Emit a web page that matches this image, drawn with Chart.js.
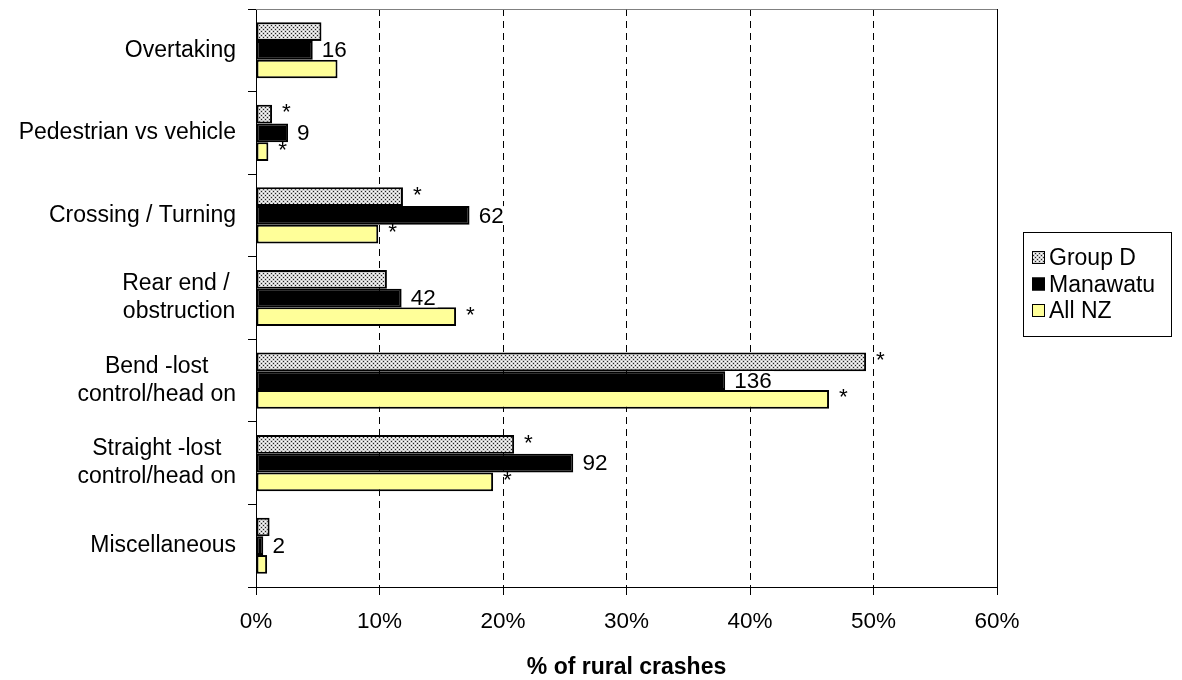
<!DOCTYPE html>
<html>
<head>
<meta charset="utf-8">
<script src="https://cdn.jsdelivr.net/npm/chart.js@4.4.1/dist/chart.umd.min.js"></script>
<style>
  html, body { margin: 0; padding: 0; background: #fff; }
  canvas { display: block; }
</style>
</head>
<body>
<canvas id="crashChart" width="1182" height="680"></canvas>
<script>
// datos
const categories = [
    ['Overtaking'],
    ['Pedestrian vs vehicle'],
    ['Crossing / Turning'],
    ['Rear end / ', 'obstruction'],
    ['Bend -lost', 'control/head on'],
    ['Straight -lost', 'control/head on'],
    ['Miscellaneous']
];
const seriesNames = ['Group D', 'Manawatu', 'All NZ'];
const groupD = [5.3, 1.3, 11.9, 10.6, 49.4, 20.9, 1.1];
const manawatu = [4.6, 2.6, 17.3, 11.8, 38.0, 25.7, 0.6];
const allNZ = [6.6, 1.0, 9.9, 16.2, 46.4, 19.2, 0.9];
const manawatuCounts = [16, 9, 62, 42, 136, 92, 2];
const sigGroupD = [false, true, true, false, true, true, false];
const sigAllNZ = [false, true, true, true, true, true, false];
const xTicks = [0, 10, 20, 30, 40, 50, 60];
const xTitle = '% of rural crashes';

const FONT = '"Liberation Sans", Arial, sans-serif';

function dotPattern(ctx) {
    const c = document.createElement('canvas');
    c.width = 4;
    c.height = 4;
    const g = c.getContext('2d');
    g.fillStyle = '#cfcfcf';
    g.fillRect(0, 0, 4, 4);
    g.fillStyle = '#ffffff';
    g.fillRect(1, 1, 1, 1);
    g.fillRect(3, 3, 1, 1);
    g.fillStyle = '#222222';
    g.fillRect(3, 1, 1, 1);
    g.fillRect(1, 3, 1, 1);
    return ctx.createPattern(c, 'repeat');
}

const ctx = document.getElementById('crashChart').getContext('2d');
const pattern = dotPattern(ctx);
const fills = [pattern, '#000000', '#ffff99'];

// etiquetas, asteriscos, leyenda y marco
const extrasPlugin = {
    id: 'extras',
    afterDatasetsDraw(chart) {
        const c = chart.ctx;
        const area = chart.chartArea;
        const yScale = chart.scales.y;
        const xScale = chart.scales.x;

        c.save();
        // marco superior y derecho
        c.lineWidth = 1;
        c.strokeStyle = '#808080';
        c.beginPath();
        c.moveTo(area.left, area.top + 0.5);
        c.lineTo(area.right, area.top + 0.5);
        c.stroke();
        c.strokeStyle = '#000';
        c.beginPath();
        c.moveTo(area.right + 0.5, area.top);
        c.lineTo(area.right + 0.5, area.bottom);
        c.stroke();

        // numeros de Manawatu
        c.font = '22.5px ' + FONT;
        c.textBaseline = 'middle';
        c.textAlign = 'left';
        const manMeta = chart.getDatasetMeta(1);
        manMeta.data.forEach((bar, i) => {
            const txt = String(manawatuCounts[i]);
            const w = c.measureText(txt).width;
            const x0 = bar.x + 9;
            c.fillStyle = '#fff';
            c.fillRect(bar.x, bar.y - bar.height / 2, x0 + w + 2 - bar.x, bar.height);
            c.fillStyle = '#000';
            c.fillText(txt, x0, bar.y + 1);
        });

        // asteriscos de significancia
        const stars = [[0, sigGroupD], [2, sigAllNZ]];
        stars.forEach(([ds, flags]) => {
            chart.getDatasetMeta(ds).data.forEach((bar, i) => {
                if (!flags[i]) return;
                c.fillStyle = '#000';
                c.fillText('*', bar.x + 10, bar.y - 1);
            });
        });

        // etiquetas de categorias
        c.font = '23px ' + FONT;
        c.textAlign = 'center';
        categories.forEach((lines, i) => {
            const y = yScale.getPixelForValue(i);
            const maxW = Math.max(...lines.map(l => c.measureText(l).width));
            const cx = area.left - 20 - maxW / 2;
            lines.forEach((line, k) => {
                c.fillText(line, cx, y + (k - (lines.length - 1) / 2) * 28);
            });
        });

        // titulo del eje x
        c.font = 'bold 23px ' + FONT;
        c.fillText(xTitle, (xScale.left + xScale.right) / 2, 668);

        // leyenda
        const lx = 1023, ly = 232, lw = 148, lh = 104;
        c.strokeStyle = '#000';
        c.lineWidth = 1;
        c.strokeRect(lx + 0.5, ly + 0.5, lw, lh);
        c.font = '23px ' + FONT;
        c.textAlign = 'left';
        seriesNames.forEach((name, i) => {
            const y = ly + 26 + i * 26.5;
            c.fillStyle = fills[i];
            c.fillRect(lx + 9, y - 7, 13, 13);
            c.strokeStyle = '#000';
            c.strokeRect(lx + 9.5, y - 6.5, 12, 12);
            c.fillStyle = '#000';
            c.fillText(name, lx + 26, y + 1);
        });
        c.restore();
    }
};

const crashChart = new Chart(ctx, {
    type: 'bar',
    data: {
        labels: categories,
        datasets: seriesNames.map((name, i) => ({
            label: name,
            data: [groupD, manawatu, allNZ][i],
            backgroundColor: fills[i],
            borderColor: '#000',
            borderWidth: 2,
            borderSkipped: false,
            categoryPercentage: 0.68,
            barPercentage: 1
        }))
    },
    options: {
        indexAxis: 'y',
        responsive: false,
        animation: false,
        devicePixelRatio: 1,
        layout: { padding: { top: 9, right: 185, bottom: 0, left: 0 } },
        plugins: {
            legend: { display: false },
            tooltip: { enabled: false }
        },
        scales: {
            y: {
                offset: true,
                ticks: { display: false },
                grid: {
                    drawOnChartArea: false,
                    drawTicks: true,
                    tickLength: 8,
                    color: '#000',
                    offset: true
                },
                border: { display: true, color: '#000', width: 1 },
                afterFit: s => { s.width = 256; }
            },
            x: {
                min: xTicks[0],
                max: xTicks[xTicks.length - 1],
                afterBuildTicks: s => { s.ticks = xTicks.map(v => ({ value: v })); },
                ticks: {
                    callback: v => v + '%',
                    color: '#000',
                    font: { family: FONT, size: 22.5 },
                    padding: 13,
                    maxRotation: 0,
                    autoSkip: false
                },
                grid: {
                    color: '#000',
                    lineWidth: 1,
                    tickLength: 8,
                    tickColor: '#000',
                    tickBorderDash: []
                },
                border: { display: true, color: '#000', width: 1, dash: [7, 5] },
                afterFit: s => { s.height = 93; }
            }
        }
    },
    plugins: [extrasPlugin]
});
</script>
</body>
</html>
